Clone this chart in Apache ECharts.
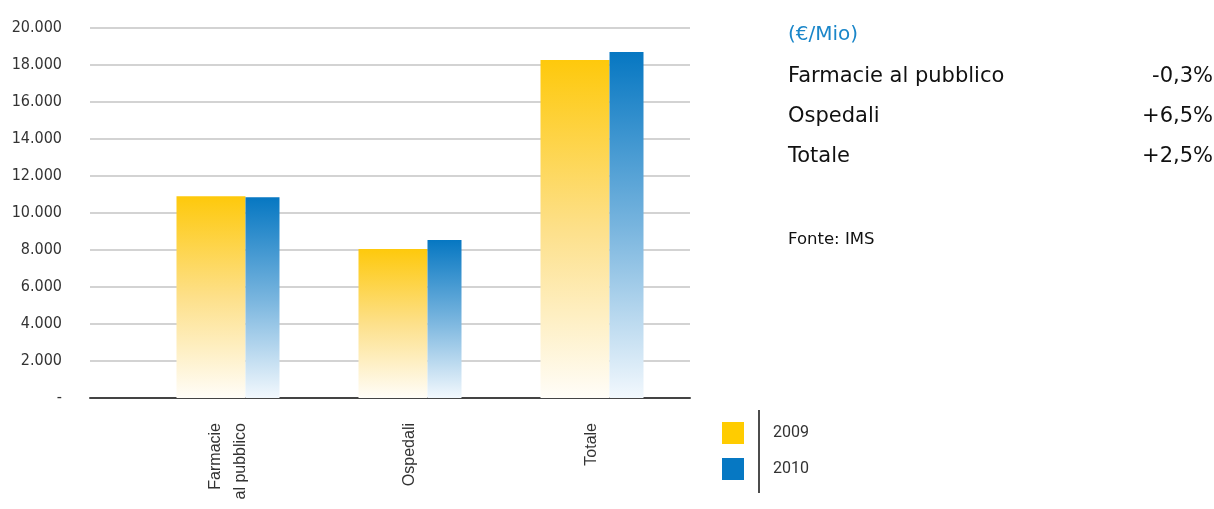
<!DOCTYPE html>
<html>
<head>
<meta charset="utf-8">
<script src="https://cdn.jsdelivr.net/npm/echarts@6/dist/echarts.min.js"></script>
<style>
  html, body { margin: 0; padding: 0; background: #fff; }
  #chart { width: 1214px; height: 509px; }
</style>
</head>
<body>
<div id="chart"></div>
<script>
var categories = ['Farmacie\nal pubblico', 'Ospedali', 'Totale'];
var years = ['2009', '2010'];
var values2009 = [10900, 8050, 18270];
var values2010 = [10850, 8540, 18700];
var tableRows = ['Farmacie al pubblico', 'Ospedali', 'Totale'];
var tableChanges = ['-0,3%', '+6,5%', '+2,5%'];

var chart = echarts.init(document.getElementById('chart'));

function fmt(v) {
  if (v === 0) return '-';
  return String(v).replace(/\B(?=(\d{3})+(?!\d))/g, '.');
}

var yellow = new echarts.graphic.LinearGradient(0, 0, 0, 1, [
  { offset: 0, color: '#fec90c' },
  { offset: 0.5, color: '#fde08a' },
  { offset: 1, color: '#fffdf8' }
]);
var blue = new echarts.graphic.LinearGradient(0, 0, 0, 1, [
  { offset: 0, color: '#0677c2' },
  { offset: 0.5, color: '#77b4de' },
  { offset: 1, color: '#f2f8fd' }
]);

// right side table
var graphics = [
  { type: 'text', left: 788, top: 25, style: { text: '(€/Mio)', fill: '#1a86c9', font: '20px "DejaVu Sans"' } }
];
tableRows.forEach(function (name, i) {
  graphics.push({ type: 'text', left: 788, top: 66 + i * 40, style: { text: name, fill: '#111', font: '21px "DejaVu Sans"' } });
  graphics.push({ type: 'text', right: 1, top: 66 + i * 40, style: { text: tableChanges[i], fill: '#111', font: '21px "DejaVu Sans"' } });
});
graphics.push({ type: 'text', left: 788, top: 231, style: { text: 'Fonte: IMS', fill: '#111', font: '16.5px "DejaVu Sans"' } });
graphics.push({ type: 'line', shape: { x1: 759, y1: 410, x2: 759, y2: 493 }, style: { stroke: '#111', lineWidth: 1.5 } });

var option = {
  animation: false,
  grid: [
    { left: 90, right: 524, top: 28, bottom: 111 },
    { left: 137, right: 531, top: 28, bottom: 111 }
  ],
  legend: {
    orient: 'vertical',
    left: 722,
    top: 422,
    padding: 0,
    itemWidth: 22,
    itemHeight: 22,
    itemGap: 14,
    icon: 'rect',
    selectedMode: false,
    textStyle: { fontFamily: 'Roboto', fontSize: 16, color: '#333', padding: [6, 0, 0, 24] },
    data: [
      { name: '2009', itemStyle: { color: '#ffcc00' } },
      { name: '2010', itemStyle: { color: '#0678c3' } }
    ]
  },
  xAxis: [
    {
      type: 'category', gridIndex: 0, data: [''],
      axisLine: { lineStyle: { color: '#444', width: 2 } },
      axisTick: { show: false }, axisLabel: { show: false }
    },
    {
      type: 'category', gridIndex: 1, data: categories,
      axisLine: { show: false }, axisTick: { show: false },
      axisLabel: { rotate: 90, margin: 25, fontFamily: 'Liberation Sans', fontSize: 16, color: '#333', lineHeight: 25 }
    }
  ],
  yAxis: [
    {
      type: 'value', gridIndex: 0, min: 0, max: 20000, interval: 2000,
      axisLine: { show: false }, axisTick: { show: false },
      splitLine: { lineStyle: { color: '#c4c4c4', width: 1.5 } },
      axisLabel: { margin: 28, formatter: fmt, fontFamily: 'DejaVu Sans Condensed', fontSize: 16, color: '#333' }
    },
    {
      type: 'value', gridIndex: 1, min: 0, max: 20000, interval: 2000, show: false
    }
  ],
  series: [
    { name: years[0], type: 'bar', xAxisIndex: 1, yAxisIndex: 1, barWidth: 69, barGap: 0, data: values2009, itemStyle: { color: yellow } },
    { name: years[1], type: 'bar', xAxisIndex: 1, yAxisIndex: 1, barWidth: 34, barGap: 0, data: values2010, itemStyle: { color: blue } }
  ],
  graphic: graphics
};

chart.setOption(option);
</script>
</body>
</html>
